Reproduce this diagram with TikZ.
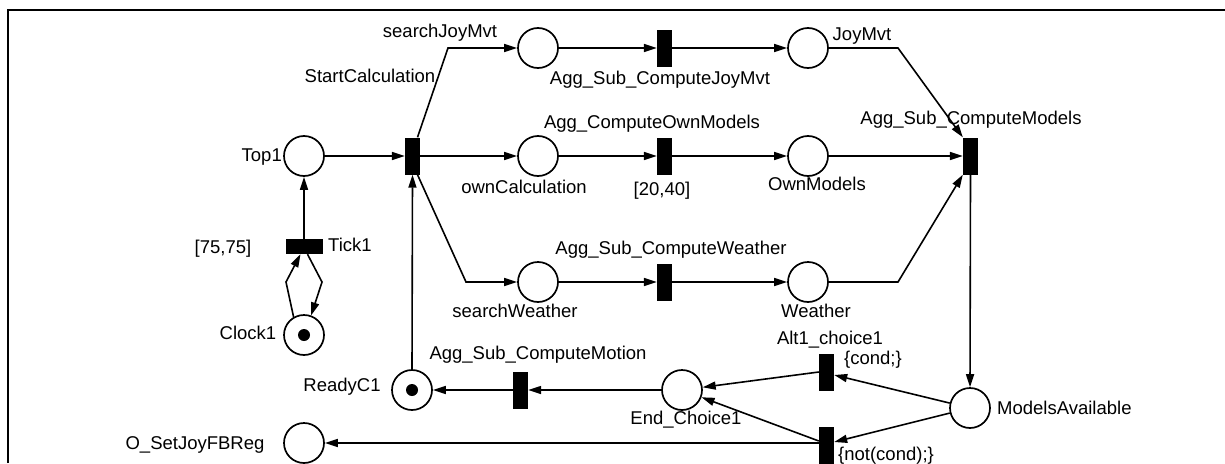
\documentclass[tikz,border=0pt]{standalone}
\usepackage{fontspec}
\setmainfont{Liberation Sans}
\usetikzlibrary{arrows.meta,calc}
\begin{document}
\begin{tikzpicture}[x=1pt,y=-1pt,
  place/.style={circle,draw,line width=1.7pt,minimum size=40pt,inner sep=0pt},
  vtrans/.style={rectangle,fill=black,minimum width=15pt,minimum height=37pt,inner sep=0pt},
  htrans/.style={rectangle,fill=black,minimum width=37pt,minimum height=15pt,inner sep=0pt},
  lbl/.style={inner sep=0pt,font=\fontsize{18.5}{20}\selectfont,text height=17pt,text depth=3.8pt},
  arc/.style={line width=1.6pt,-{Triangle[length=13pt,width=8pt]}},
  tok/.style={circle,fill=black,minimum size=12pt,inner sep=0pt}]
\useasboundingbox (0,0) rectangle (1225,463);
\draw[line width=1.3pt] (8,463) -- (8,10) -- (1225,10);
% places
\node[place] (top1) at (304,156) {};
\node[place] (clock) at (304,335) {};
\node[tok] at (clock) {};
\node[place] (ready) at (412,390) {};
\node[tok] at (ready) {};
\node[place] (oset) at (304,443) {};
\node[place] (sjm) at (538,48) {};
\node[place] (oc) at (538,156) {};
\node[place] (sw) at (538,282) {};
\node[place] (joy) at (808,48) {};
\node[place] (own) at (808,156) {};
\node[place] (wea) at (808,282) {};
\node[place] (ma) at (970,408) {};
\node[place] (ec) at (682,390) {};
% transitions
\node[vtrans] (sc) at (412.5,156) {};
\node[htrans] (tick) at (304.5,246.5) {};
\node[vtrans] (tj) at (664.5,48) {};
\node[vtrans] (to) at (664.5,156) {};
\node[vtrans] (tw) at (664.5,282) {};
\node[vtrans] (tm) at (970.5,156) {};
\node[vtrans] (alt) at (826.5,372) {};
\node[vtrans] (nt) at (826.5,445) {};
\node[vtrans] (tmo) at (520.5,390) {};
% bend coordinates
\coordinate (b1) at (448,48);
\coordinate (b2) at (466,282);
\coordinate (b3) at (898,48);
\coordinate (b4) at (898,282);
\coordinate (b5) at (286,282);
\coordinate (b6) at (322,282);
% arcs
\draw[arc] (top1) -- (sc.west);
\draw[arc] (tick.north -| top1) -- (top1.south);
\draw[arc] (clock.120) -- (b5) -- ($(tick.south)+(-4,0)$);
\draw[arc] ($(tick.south)+(3,0)$) -- (b6) -- (clock.70);
\draw[arc] (ready.north) -- (sc.south);
\draw[arc] ($(sc.north)+(5,0)$) -- (b1) -- (sjm.west);
\draw[arc] (sc.east) -- (oc.west);
\draw[arc] ($(sc.south)+(5,0)$) -- (b2) -- (sw.west);
\draw[arc] (sjm) -- (tj.west);
\draw[arc] (tj.east) -- (joy.west);
\draw[arc] (oc) -- (to.west);
\draw[arc] (to.east) -- (own.west);
\draw[arc] (sw) -- (tw.west);
\draw[arc] (tw.east) -- (wea.west);
\draw[arc] (joy.east) -- (b3) -- (tm.north west);
\draw[arc] (own.east) -- (tm.west);
\draw[arc] (wea.east) -- (b4) -- (tm.south west);
\draw[arc] (tm.south) -- (ma.north);
\draw[arc] (ma) -- ($(alt.east)+(0,3)$);
\draw[arc] (ma) -- ($(nt.east)+(0,-3)$);
\draw[arc] (alt.west) -- (ec);
\draw[arc] ($(nt.west)+(0,-4)$) -- (ec);
\draw[arc] (nt.west |- oset) -- (oset.east);
\draw[arc] (ec.west) -- (tmo.east);
\draw[arc] (tmo.west) -- (ready.east);
% labels
\node[lbl,anchor=east] (l1) at (282,155) {Top1};
\node[lbl] (l2) at (370,76) {StartCalculation};
\node[lbl] (l3) at (440,31) {searchJoyMvt};
\node[lbl] (l4) at (660,78) {Agg\_Sub\_ComputeJoyMvt};
\node[lbl] (l5) at (862,34) {JoyMvt};
\node[lbl] (l6) at (652,122) {Agg\_ComputeOwnModels};
\node[lbl] (l7) at (524,187) {ownCalculation};
\node[lbl] (l8) at (662,189) {[20,40]};
\node[lbl] (l9) at (817,184) {OwnModels};
\node[lbl] (l10) at (971,118) {Agg\_Sub\_ComputeModels};
\node[lbl] (l11) at (671,248) {Agg\_Sub\_ComputeWeather};
\node[lbl] (l12) at (515,311) {searchWeather};
\node[lbl] (l13) at (816,311) {Weather};
\node[lbl] (l14) at (830,338) {Alt1\_choice1};
\node[lbl] (l15) at (873,358) {\{cond;\}};
\node[lbl,anchor=west] (l16) at (997,408) {ModelsAvailable};
\node[lbl] (l17) at (886,454) {\{not(cond);\}};
\node[lbl] (l18) at (686,418) {End\_Choice1};
\node[lbl] (l19) at (538,353) {Agg\_Sub\_ComputeMotion};
\node[lbl] (l20) at (342,385) {ReadyC1};
\node[lbl] (l21) at (195,443) {O\_SetJoyFBReg};
\node[lbl] (l22) at (350,245) {Tick1};
\node[lbl] (l23) at (223,247) {[75,75]};
\node[lbl] (l24) at (248,333) {Clock1};
\end{tikzpicture}
\end{document}
